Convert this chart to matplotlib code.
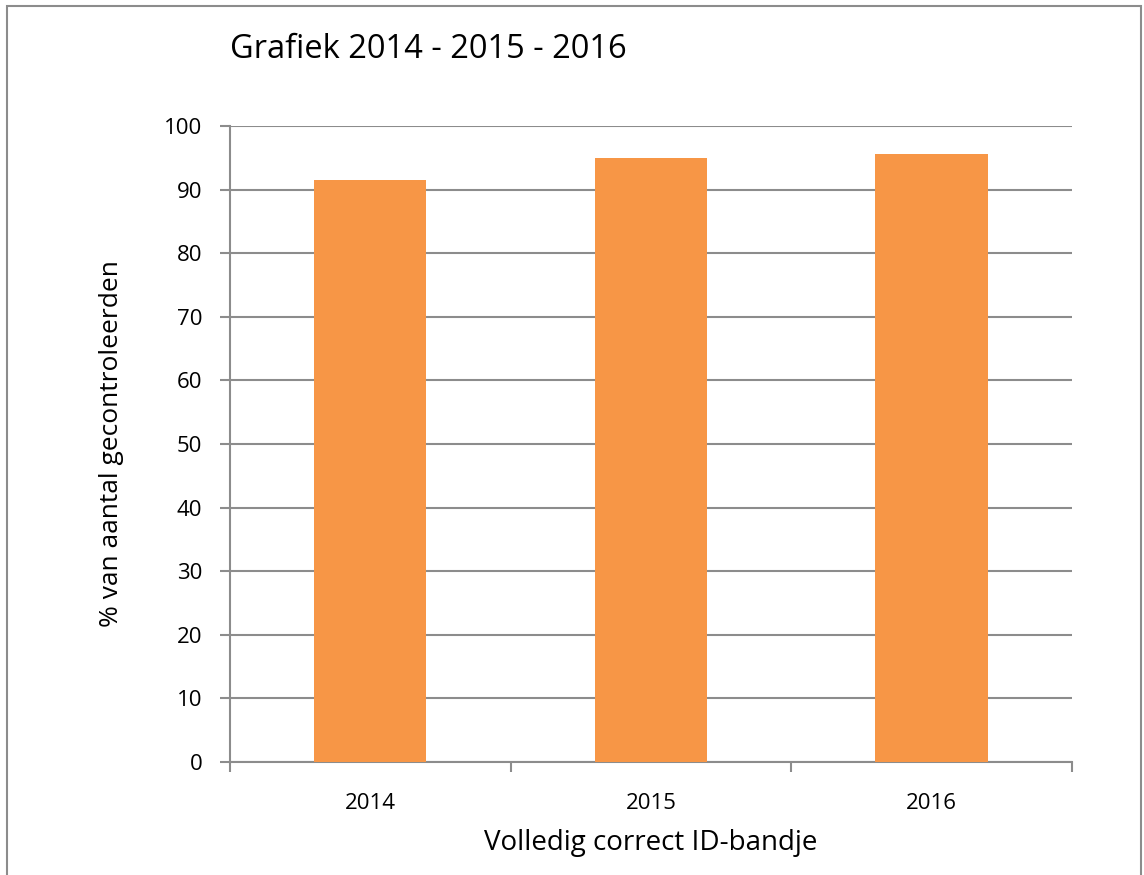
"""Bar chart: share of checked persons with a fully correct ID band, 2014-2016."""

import matplotlib

matplotlib.use("Agg")
import matplotlib.pyplot as plt
from matplotlib.patches import Rectangle

years = ["2014", "2015", "2016"]
percentages = [91.5, 95.0, 95.6]
y_ticks = [0, 10, 20, 30, 40, 50, 60, 70, 80, 90, 100]

plt.rcParams["font.family"] = ["Open Sans", "DejaVu Sans"]

fig = plt.figure(figsize=(11.44, 8.75), dpi=100)
ax = fig.add_axes([0.2010, 0.1291, 0.7360, 0.7269])

# Outer chart frame (left, top, right edges)
fig.patches.append(
    Rectangle((7 / 1144, -0.01), (1141 - 7) / 1144, 1 - 6 / 875 + 0.01,
              transform=fig.transFigure, fill=False, edgecolor="#8c8c8c", linewidth=1.5)
)

x = list(range(len(years)))
ax.bar(x, percentages, width=0.4, color="#f79646", zorder=3)

ax.set_xlim(-0.5, len(years) - 0.5)
ax.set_ylim(0, 100)
ax.set_yticks(y_ticks)
ax.set_xticks(x)
ax.set_xticklabels(years)
ax.set_xticks([i - 0.5 for i in range(len(years) + 1)], minor=True)

ax.grid(axis="y", color="#8c8c8c", linewidth=1.5, zorder=0)
for side in ["top", "right"]:
    ax.spines[side].set_visible(False)
for side in ["left", "bottom"]:
    ax.spines[side].set_color("#8c8c8c")
    ax.spines[side].set_linewidth(1.5)

ax.tick_params(axis="y", direction="out", length=7, width=1.5, color="#8c8c8c",
               labelsize=16, pad=13)
ax.tick_params(axis="x", which="major", length=0, labelsize=16, pad=22)
ax.tick_params(axis="x", which="minor", direction="out", length=7, width=1.5,
               color="#8c8c8c")

ax.set_xlabel("Volledig correct ID-bandje", fontsize=20, labelpad=11)
ax.set_ylabel("% van aantal gecontroleerden", fontsize=19, labelpad=29)
fig.text(230 / 1144, 1 - 50 / 875, "Grafiek 2014 - 2015 - 2016", fontsize=23.5,
         ha="left", va="center")

fig.savefig("out.png", dpi=100)
